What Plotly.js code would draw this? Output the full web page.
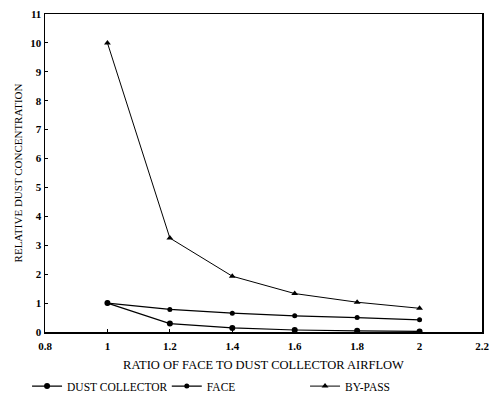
<!DOCTYPE html>
<html>
<head>
<meta charset="utf-8">
<script src="https://cdn.plot.ly/plotly-3.0.1.min.js"></script>
<style>html,body{margin:0;padding:0;background:#fff;}#chart{width:492px;height:396px;}</style>
</head>
<body>
<div id="chart"></div>
<script>
const ratio = [1, 1.2, 1.4, 1.6, 1.8, 2];
const dustCollector = [1, 0.29, 0.14, 0.07, 0.04, 0.02];
const face = [1, 0.78, 0.65, 0.56, 0.5, 0.42];
const byPass = [10, 3.25, 1.93, 1.33, 1.03, 0.82];
const seriesNames = ["DUST COLLECTOR", "FACE", "BY-PASS"];
const xTitle = "RATIO OF FACE TO DUST COLLECTOR AIRFLOW";
const yTitle = "RELATIVE DUST CONCENTRATION";

const font = "Liberation Serif, Times New Roman, serif";
const traces = [
  {x: ratio, y: dustCollector, name: seriesNames[0], mode: "lines+markers", legend: "legend",
   line: {color: "#000", width: 1.2}, marker: {symbol: "circle", size: 6, color: "#000"}},
  {x: ratio, y: face, name: seriesNames[1], mode: "lines+markers", legend: "legend2",
   line: {color: "#000", width: 1.2}, marker: {symbol: "circle", size: 5, color: "#000"}},
  {x: ratio, y: byPass, name: seriesNames[2], mode: "lines+markers", legend: "legend3",
   line: {color: "#000", width: 1}, marker: {symbol: "triangle-up", size: 6, color: "#000"}}
];
function leg(x) {
  return {orientation: "h", xref: "container", yref: "container",
          x: x, xanchor: "left", y: 0.025, yanchor: "middle",
          itemwidth: 30, font: {family: font, size: 11.5, color: "#000"}};
}
const layout = {
  width: 492, height: 396,
  margin: {l: 45, r: 10, t: 14, b: 64, autoexpand: false},
  paper_bgcolor: "#fff", plot_bgcolor: "#fff",
  font: {family: font, color: "#000", size: 11},
  showlegend: true,
  legend: leg(0.055),
  legend2: leg(0.339),
  legend3: leg(0.62),
  xaxis: {range: [0.8, 2.2], dtick: 0.2, tick0: 0.8, showgrid: false, zeroline: false,
          showline: true, linecolor: "#000", linewidth: 1.5, mirror: true,
          ticks: "inside", ticklen: 3, tickcolor: "#000", ticklabelstandoff: 3,
          tickfont: {family: font, size: 11, weight: "bold"},
          title: {text: xTitle, standoff: 24, font: {family: font, size: 12.5}}},
  yaxis: {range: [0, 11], dtick: 1, showgrid: false, zeroline: false,
          showline: true, linecolor: "#000", linewidth: 1.5, mirror: true,
          ticks: "inside", ticklen: 3, tickcolor: "#000",
          tickfont: {family: font, size: 11, weight: "bold"},
          title: {text: yTitle, standoff: 5, font: {family: font, size: 11}}}
};
Plotly.newPlot("chart", traces, layout, {displayModeBar: false, staticPlot: true});
</script>
</body>
</html>
